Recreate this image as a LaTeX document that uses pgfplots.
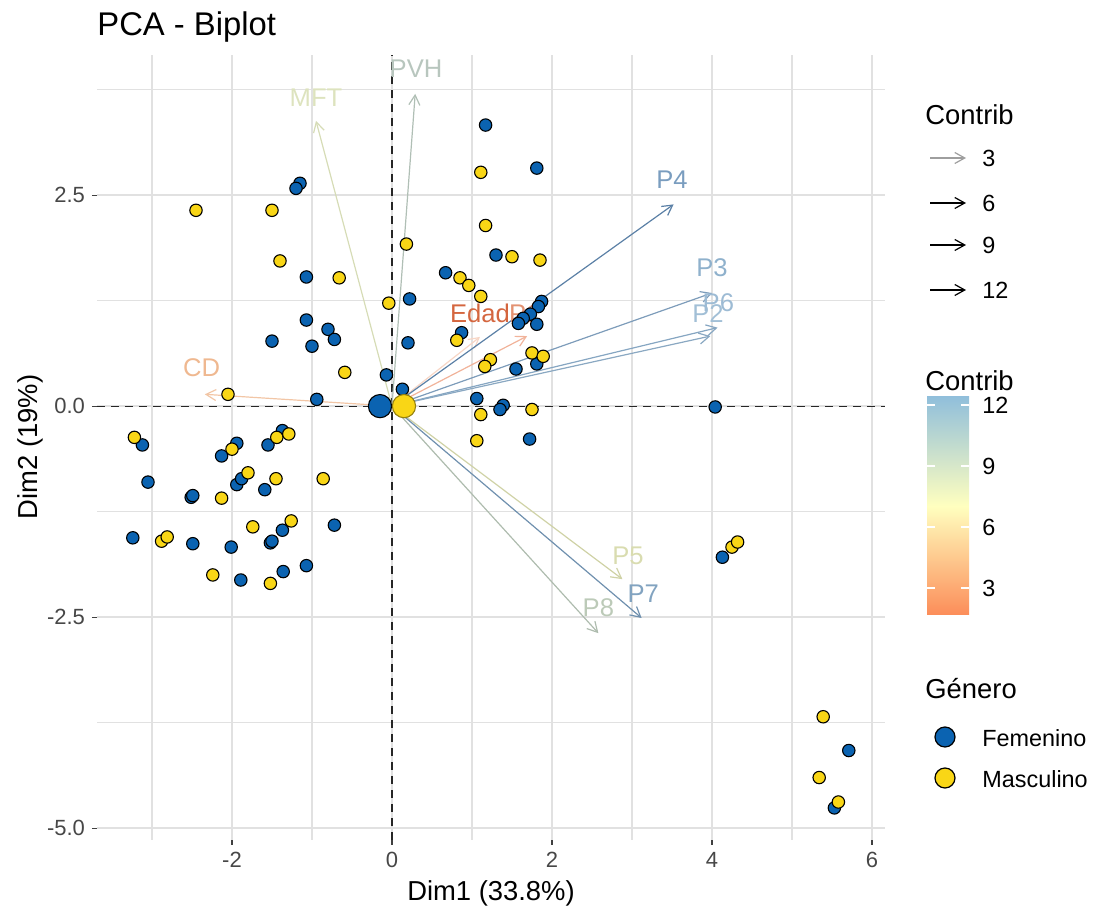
\documentclass[border=0pt]{standalone}
\usepackage{fontspec}
\setmainfont{Liberation Sans}
\usepackage{pgfplots}
\pgfplotsset{compat=1.18}
\usetikzlibrary{arrows.meta}

\definecolor{fem}{HTML}{0B63B1}
\definecolor{mas}{HTML}{F9D616}
\definecolor{gridc}{HTML}{E1E1E1}
\definecolor{cbtop}{HTML}{91BFDB}
\definecolor{cbmid}{HTML}{FFFFBF}
\definecolor{cbbot}{HTML}{FC8D59}

\tikzset{varrow/.style={line width=0.6pt, -{Straight Barb[length=5pt,width=5.5pt]}},
  vlab/.style={font=\fontsize{12.8}{14}\selectfont, inner sep=0pt}}

\begin{document}
\begin{tikzpicture}
\begin{axis}[
  at={(0,0)}, anchor=south west,
  scale only axis, width=394pt, height=392.5pt,
  xmin=-3.6875, xmax=6.1625, ymin=-5.14, ymax=4.16,
  axis line style={draw=none},
  xtick={-2,0,2,4,6}, xticklabels={-2,0,2,4,6},
  ytick={-5,-2.5,0,2.5}, yticklabels={-5.0,-2.5,0.0,2.5},
  minor xtick={-3,-1,1,3,5}, minor ytick={-3.75,-1.25,1.25,3.75},
  xtick pos=bottom, ytick pos=left,
  grid=both,
  major grid style={gridc, line width=1pt},
  minor grid style={gridc, line width=0.8pt},
  tick align=outside, major tick length=2.5pt, minor tick length=0pt,
  major tick style={black!75, line width=0.55pt},
  tick label style={font=\fontsize{11}{13}\selectfont, text=black!72},
]
% reference lines
\draw[black!85, line width=0.6pt, dash pattern=on 4pt off 3pt] (axis cs:0,-5.14) -- (axis cs:0,4.16);
\draw[black!85, line width=0.6pt, dash pattern=on 4pt off 3pt] (axis cs:-3.6875,0) -- (axis cs:6.1625,0);

% individuals: Femenino
\addplot[only marks, mark=*, mark size=3.1pt, mark options={fill=fem, draw=black, line width=0.55pt}] table {
x y
-1.15 2.64
-1.20 2.58
-1.07 1.53
-1.07 1.02
-0.80 0.91
-0.72 0.79
-1.50 0.77
-1.00 0.71
-0.07 0.37
-0.94 0.08
0.13 0.20
1.17 3.33
1.81 2.82
1.30 1.79
0.67 1.58
0.22 1.27
1.87 1.24
1.83 1.18
1.73 1.09
1.64 1.04
1.58 0.98
1.81 0.97
0.87 0.87
0.20 0.75
1.81 0.50
1.55 0.44
1.06 0.09
1.39 0.01
1.35 -0.04
1.72 -0.39
4.04 -0.01
4.13 -1.79
5.71 -4.08
5.53 -4.76
-3.12 -0.46
-3.05 -0.90
-2.51 -1.08
-2.49 -1.06
-2.13 -0.59
-1.94 -0.44
-1.94 -0.93
-1.88 -0.86
-1.59 -0.99
-1.55 -0.46
-1.37 -0.29
-3.24 -1.56
-2.49 -1.63
-2.01 -1.67
-1.52 -1.62
-1.50 -1.60
-1.37 -1.47
-0.72 -1.41
-1.89 -2.06
-1.36 -1.96
-1.07 -1.89
};
% individuals: Masculino
\addplot[only marks, mark=*, mark size=3.1pt, mark options={fill=mas, draw=black, line width=0.55pt}] table {
x y
-2.45 2.32
-1.50 2.32
-1.40 1.72
-0.66 1.52
-0.59 0.40
-2.05 0.14
-0.04 1.22
1.11 2.77
1.17 2.14
0.18 1.92
1.50 1.77
1.85 1.73
0.85 1.52
0.96 1.43
1.11 1.30
0.81 0.78
1.75 0.63
1.89 0.59
1.23 0.55
1.16 0.47
1.75 -0.04
1.11 -0.10
1.06 -0.41
4.25 -1.67
4.32 -1.61
5.39 -3.68
5.34 -4.40
5.58 -4.69
-3.22 -0.37
-2.13 -1.09
-2.00 -0.51
-1.80 -0.79
-1.45 -0.86
-0.86 -0.86
-1.44 -0.37
-1.29 -0.33
-2.88 -1.60
-2.81 -1.55
-1.74 -1.43
-1.26 -1.36
-2.24 -2.00
-1.52 -2.10
};
% group centres
\addplot[only marks, mark=*, mark size=5.8pt, mark options={fill=fem, draw=black, line width=0.55pt}] coordinates {(-0.15,0)};
\addplot[only marks, mark=*, mark size=5.8pt, mark options={fill=mas, draw=mas!60!black, line width=0.55pt}] coordinates {(0.15,0)};

% variables
\addplot[varrow, color={rgb,255:red,176;green,191;blue,181}] coordinates {(0,0) (0.29,3.70)};
\addplot[varrow, color={rgb,255:red,214;green,220;blue,182}] coordinates {(0,0) (-0.95,3.38)};
\addplot[varrow, color={rgb,255:red,242;green,198;blue,166}] coordinates {(0,0) (-2.34,0.14)};
\addplot[varrow, color={rgb,255:red,247;green,214;blue,198}] coordinates {(0,0) (1.10,0.82)};
\addplot[varrow, color={rgb,255:red,241;green,179;blue,154}] coordinates {(0,0) (1.69,0.83)};
\addplot[varrow, color={rgb,255:red,207;green,210;blue,166}] coordinates {(0,0) (2.88,-2.05)};
\addplot[varrow, color={rgb,255:red,174;green,188;blue,174}] coordinates {(0,0) (2.58,-2.69)};
\addplot[varrow, color={rgb,255:red,111;green,144;blue,174}] coordinates {(0,0) (3.12,-2.51)};
\addplot[varrow, color={rgb,255:red,138;green,168;blue,194}] coordinates {(0,0) (3.98,0.83)};
\addplot[varrow, color={rgb,255:red,134;green,166;blue,194}] coordinates {(0,0) (4.07,0.93)};
\addplot[varrow, color={rgb,255:red,125;green,156;blue,186}] coordinates {(0,0) (4.00,1.34)};
\addplot[varrow, color={rgb,255:red,91;green,128;blue,166}] coordinates {(0,0) (3.52,2.39)};

\node[vlab, text={rgb,255:red,184;green,198;blue,190}] at (axis cs:0.30,4.00) {PVH};
\node[vlab, text={rgb,255:red,221;green,227;blue,190}] at (axis cs:-0.95,3.65) {MFT};
\node[vlab, text={rgb,255:red,239;green,184;blue,144}] at (axis cs:-2.38,0.46) {CD};
\node[vlab, text={rgb,255:red,212;green,102;blue,63}] at (axis cs:1.10,1.10) {Edad};
\node[vlab, text={rgb,255:red,227;green,146;blue,114}] at (axis cs:1.66,1.10) {P1};
\node[vlab, text={rgb,255:red,217;green,220;blue,176}] at (axis cs:2.95,-1.77) {P5};
\node[vlab, text={rgb,255:red,188;green,202;blue,184}] at (axis cs:2.58,-2.39) {P8};
\node[vlab, text={rgb,255:red,130;green,163;blue,192}] at (axis cs:3.14,-2.22) {P7};
\node[vlab, text={rgb,255:red,162;green,191;blue,214}] at (axis cs:3.95,1.10) {P2};
\node[vlab, text={rgb,255:red,157;green,187;blue,212}] at (axis cs:4.08,1.22) {P6};
\node[vlab, text={rgb,255:red,143;green,177;blue,204}] at (axis cs:4.00,1.64) {P3};
\node[vlab, text={rgb,255:red,122;green,157;blue,191}] at (axis cs:3.50,2.68) {P4};
\end{axis}

% titles and legends, placed in image pixel units
\begin{scope}[x=0.5pt, y=-0.5pt, shift={(-48.5pt,420pt)}]
\node[anchor=base west, font=\fontsize{16.4}{19}\selectfont, inner sep=0pt] at (97,36) {PCA - Biplot};
\node[anchor=base, font=\fontsize{13.7}{16}\selectfont, inner sep=0pt] at (491,901) {Dim1 (33.8\%)};
\node[anchor=base, rotate=90, font=\fontsize{13.7}{16}\selectfont, inner sep=0pt] at (38,447) {Dim2 (19\%)};

% legend: arrow transparency
\node[anchor=base west, font=\fontsize{13.7}{16}\selectfont, inner sep=0pt] at (925,125) {Contrib};
\foreach \yy/\lab/\cc in {158/3/black!38, 203/6/black, 245/9/black, 290/12/black}{
  \draw[\cc, line width=0.6pt, -{Straight Barb[length=5pt,width=5.5pt]}] (930,\yy) -- (966,\yy);
  \node[anchor=west, font=\fontsize{11.7}{14}\selectfont, inner sep=0pt] at (982,\yy) {\lab};
}

% legend: colour bar
\node[anchor=base west, font=\fontsize{13.7}{16}\selectfont, inner sep=0pt] at (925,391) {Contrib};
\shade[top color=cbtop, bottom color=cbbot, middle color=cbmid] (927,397) rectangle (969,615);
\foreach \yy/\lab in {405/12, 466/9, 527/6, 588/3}{
  \draw[white, line width=0.6pt] (927,\yy) -- (935,\yy);
  \draw[white, line width=0.6pt] (961,\yy) -- (969,\yy);
  \node[anchor=west, font=\fontsize{11.7}{14}\selectfont, inner sep=0pt] at (982,\yy) {\lab};
}

% legend: gender
\node[anchor=base west, font=\fontsize{13.7}{16}\selectfont, inner sep=0pt] at (925,699) {Género};
\filldraw[fill=fem, draw=black, line width=0.6pt] (945,737) circle[radius=5pt];
\filldraw[fill=mas, draw=black, line width=0.6pt] (945,778) circle[radius=5pt];
\node[anchor=west, font=\fontsize{11.7}{14}\selectfont, inner sep=0pt] at (982,738) {Femenino};
\node[anchor=west, font=\fontsize{11.7}{14}\selectfont, inner sep=0pt] at (982,779) {Masculino};
\end{scope}

\pgfresetboundingbox
\path[use as bounding box] (-48.5pt,-37.5pt) rectangle (498.5pt,420pt);
\end{tikzpicture}
\end{document}
